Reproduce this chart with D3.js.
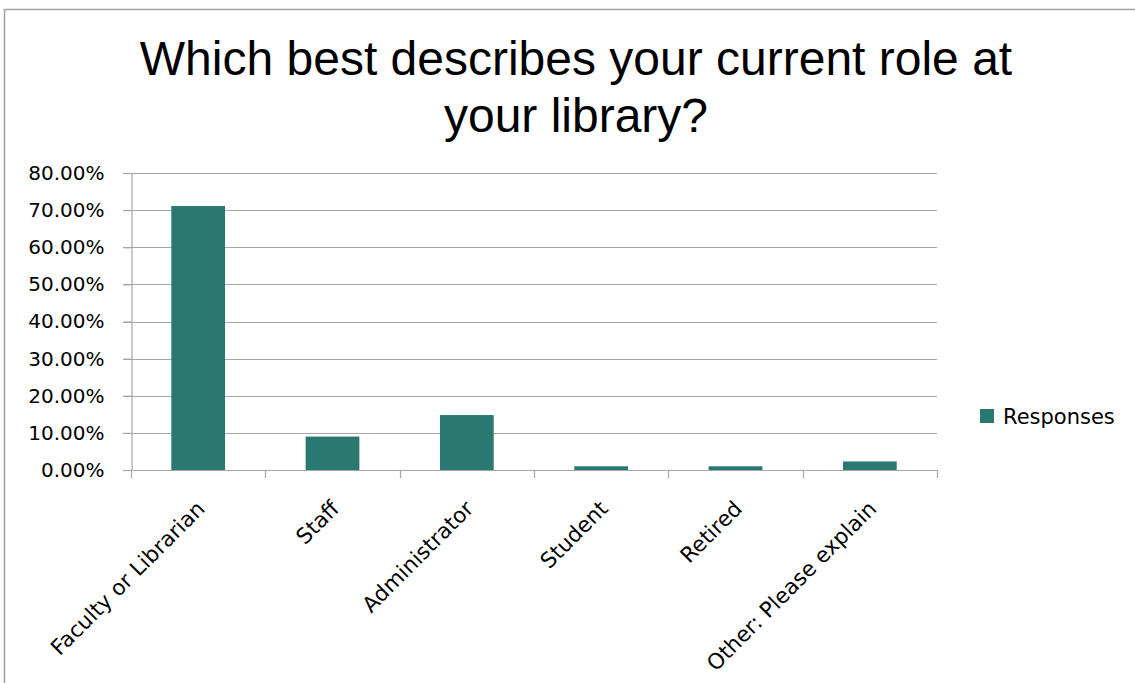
<!DOCTYPE html>
<html>
<head>
<meta charset="utf-8">
<script src="https://cdn.jsdelivr.net/npm/d3@7/dist/d3.min.js"></script>
<style>
  html, body { margin: 0; padding: 0; background: #fff; }
  svg { display: block; }
</style>
</head>
<body>
<svg id="chart" width="1135" height="683"></svg>
<script>
// Survey: role of respondents at their library
const categories = ["Faculty or Librarian", "Staff", "Administrator", "Student", "Retired", "Other: Please explain"];
const responses = [0.711, 0.090, 0.148, 0.010, 0.010, 0.023];
const yTicks = [0, 0.1, 0.2, 0.3, 0.4, 0.5, 0.6, 0.7, 0.8];
const titleLines = ["Which best describes your current role at", "your library?"];
const seriesName = "Responses";

const svg = d3.select("#chart");
const W = 1135, H = 683;
const barColor = "#2b7871";
const gridColor = "#a6a6a6";
const labelFont = "'DejaVu Sans', sans-serif";

// outer frame of the chart area
svg.append("path")
  .attr("d", `M4.5,${H} V9.5 H${W}`)
  .attr("fill", "none")
  .attr("stroke", "#a0a0a0")
  .attr("stroke-width", 1.5);

// title
const title = svg.append("text")
  .attr("text-anchor", "middle")
  .attr("font-family", "'Liberation Sans', Arial, sans-serif")
  .attr("font-size", 48)
  .attr("fill", "#000");
titleLines.forEach((line, i) => {
  title.append("tspan").attr("x", 576).attr("y", 74.5 + i * 57.5).text(line);
});

const plot = { left: 131, right: 937, top: 173, bottom: 470 };

const x = d3.scaleBand()
  .domain(categories)
  .range([plot.left, plot.right])
  .paddingInner(0.6)
  .paddingOuter(0.3);

const y = d3.scaleLinear()
  .domain([0, 0.8])
  .range([plot.bottom, plot.top]);

// horizontal gridlines
svg.append("g")
  .selectAll("line")
  .data(yTicks)
  .join("line")
  .attr("x1", plot.left - 8)
  .attr("x2", plot.right)
  .attr("y1", d => Math.round(y(d)) + 0.5)
  .attr("y2", d => Math.round(y(d)) + 0.5)
  .attr("stroke", gridColor)
  .attr("stroke-width", 1.2);

// y axis
const yAxis = svg.append("g")
  .attr("transform", `translate(${plot.left + 0.5},0)`)
  .call(d3.axisLeft(y).tickValues(yTicks).tickFormat(d3.format(".2%")).tickSize(8).tickPadding(19));
yAxis.select(".domain").attr("stroke", gridColor).attr("stroke-width", 1.2);
yAxis.selectAll(".tick line").attr("stroke", gridColor).attr("stroke-width", 1.2);
yAxis.selectAll(".tick text")
  .attr("font-family", labelFont)
  .attr("font-size", 20)
  .attr("fill", "#000");

// bars
svg.append("g")
  .selectAll("rect")
  .data(categories.map((c, i) => ({ c, v: responses[i] })))
  .join("rect")
  .attr("x", d => x(d.c))
  .attr("width", x.bandwidth())
  .attr("y", d => y(d.v))
  .attr("height", d => y(0) - y(d.v))
  .attr("fill", barColor);

// x axis: ticks at category boundaries
const step = (plot.right - plot.left) / categories.length;
const boundaries = d3.range(categories.length + 1).map(i => plot.left + i * step);
const xAxis = svg.append("g");
xAxis.append("line")
  .attr("x1", plot.left).attr("x2", plot.right)
  .attr("y1", plot.bottom + 0.5).attr("y2", plot.bottom + 0.5)
  .attr("stroke", gridColor).attr("stroke-width", 1.2);
xAxis.selectAll("line.tick")
  .data(boundaries)
  .join("line")
  .attr("class", "tick")
  .attr("x1", d => Math.round(d) + 0.5).attr("x2", d => Math.round(d) + 0.5)
  .attr("y1", plot.bottom).attr("y2", plot.bottom + 8)
  .attr("stroke", gridColor).attr("stroke-width", 1.2);

// rotated category labels
svg.append("g")
  .selectAll("text")
  .data(categories)
  .join("text")
  .attr("text-anchor", "end")
  .attr("font-family", labelFont)
  .attr("font-size", 21.5)
  .attr("fill", "#000")
  .attr("transform", d => `translate(${x(d) + x.bandwidth() / 2 + 8},${plot.bottom + 40}) rotate(-45)`)
  .text(d => d);

// legend
const legend = svg.append("g").attr("transform", "translate(980,409)");
legend.append("rect").attr("width", 14).attr("height", 14).attr("fill", barColor);
legend.append("text")
  .attr("x", 23).attr("y", 14.5)
  .attr("font-family", labelFont)
  .attr("font-size", 21)
  .attr("fill", "#000")
  .text(seriesName);
</script>
</body>
</html>
